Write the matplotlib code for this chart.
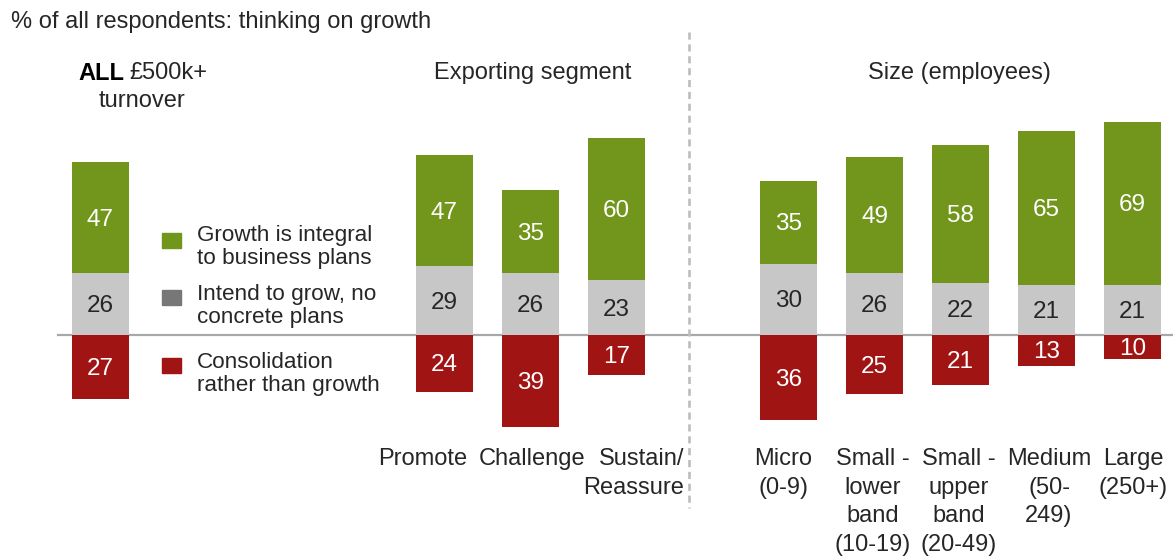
import matplotlib
matplotlib.use("Agg")
import matplotlib.pyplot as plt
from matplotlib.patches import Rectangle

plt.rcParams['font.family'] = ['Liberation Sans', 'DejaVu Sans']

# --- data -------------------------------------------------------------
categories = ["ALL", "Promote", "Challenge", "Sustain/\nReassure",
              "Micro\n(0-9)", "Small -\nlower\nband\n(10-19)",
              "Small -\nupper\nband\n(20-49)", "Medium\n(50-\n249)",
              "Large\n(250+)"]
growth_integral = [47, 47, 35, 60, 35, 49, 58, 65, 69]
intend_to_grow = [26, 29, 26, 23, 30, 26, 22, 21, 21]
consolidation = [27, 24, 39, 17, 36, 25, 21, 13, 10]

series_names = ["Growth is integral\nto business plans",
                "Intend to grow, no\nconcrete plans",
                "Consolidation\nrather than growth"]

# --- layout -----------------------------------------------------------
W, H = 1173, 559
x_pos = [-4, 0, 1, 2, 4, 5, 6, 7, 8]
bar_w = 0.663
px_per_slot = 86.0
x0_px = 444.5           # pixel column of slot 0
base_px = 335.0         # pixel row of the zero line
px_per_unit = 2.37

GREEN = "#72951c"
GREY = "#c7c7c7"
GREY_KEY = "#777777"
RED = "#a11414"
TXT = "#262626"

fig = plt.figure(figsize=(W / 100, H / 100), dpi=100)
ax = fig.add_axes([0, 0, 1, 1])
ax.set_xlim(-x0_px / px_per_slot, (W - x0_px) / px_per_slot)
ax.set_ylim(-(H - base_px) / px_per_unit, base_px / px_per_unit)
ax.axis("off")


def px(x, y):
    """Pixel position (from top-left) -> data coordinates."""
    return (x - x0_px) / px_per_slot, (base_px - y) / px_per_unit


fs = 17
fs_val = 17.5
fs_key = 16.2
nudge = 2.0 / px_per_unit   # digits have no descenders: drop labels a touch

# stacked bars
ax.bar(x_pos, intend_to_grow, bar_w, color=GREY, zorder=2)
ax.bar(x_pos, growth_integral, bar_w, bottom=intend_to_grow, color=GREEN, zorder=2)
ax.bar(x_pos, [-v for v in consolidation], bar_w, color=RED, zorder=2)

for x, g, i, c in zip(x_pos, growth_integral, intend_to_grow, consolidation):
    ax.text(x, i + g / 2 - nudge, str(g), ha="center", va="center",
            color="white", fontsize=fs_val, zorder=3)
    ax.text(x, i / 2 - nudge, str(i), ha="center", va="center", color=TXT,
            fontsize=fs_val, zorder=3)
    ax.text(x, -c / 2 - nudge, str(c), ha="center", va="center",
            color="white", fontsize=fs_val, zorder=3)

# zero line
lx0, _ = px(58, 0)
ax.plot([lx0, ax.get_xlim()[1]], [0, 0], color="#a8a8a8", lw=1.6, zorder=1)

# dashed separator
sx, sy0 = px(689, 32)
_, sy1 = px(689, 508)
ax.plot([sx, sx], [sy0, sy1], color="#bdbdbd", lw=1.9,
        linestyle=(0, (2.7, 1.8)), zorder=1)

# title and group headings
ax.text(*px(11, 22), "% of all respondents: thinking on growth",
        ha="left", va="center", fontsize=fs, color=TXT)
ax.text(*px(124, 73), "ALL", ha="right", va="center", fontsize=fs,
        color="black", fontweight="bold")
ax.text(*px(129, 73), "£500k+", ha="left", va="center", fontsize=fs, color=TXT)
ax.text(*px(142, 101), "turnover", ha="center", va="center", fontsize=fs, color=TXT)
ax.text(*px(533, 73), "Exporting segment", ha="center", va="center",
        fontsize=fs, color=TXT)
ax.text(*px(959, 73), "Size (employees)", ha="center", va="center",
        fontsize=fs, color=TXT)

# category labels under the bars
label_specs = {
    "Promote": (423, "center"),
    "Challenge": (532, "center"),
    "Sustain/\nReassure": (684, "right"),
    "Micro\n(0-9)": (783, "center"),
    "Small -\nlower\nband\n(10-19)": (873, "center"),
    "Small -\nupper\nband\n(20-49)": (959, "center"),
    "Medium\n(50-\n249)": (1049, "center"),
    "Large\n(250+)": (1133, "center"),
}
for name in categories[1:]:
    lx, align = label_specs[name]
    ax.text(*px(lx, 448), name, ha=align, va="top", fontsize=fs,
            color=TXT, linespacing=1.39, multialignment=align)

# legend
key_colors = [GREEN, GREY_KEY, RED]
key_rows = [240, 297, 365]
text_rows = [247, 306, 374]
for col, ky, ty, name in zip(key_colors, key_rows, text_rows, series_names):
    kx0, ky0 = px(162, ky + 7.5)
    kx1, ky1 = px(181, ky - 7.5)
    ax.add_patch(Rectangle((kx0, ky0), kx1 - kx0, ky1 - ky0, color=col, zorder=2))
    ax.text(*px(197, ty), name, ha="left", va="center", fontsize=fs_key,
            color=TXT, linespacing=1.12)

fig.savefig("out.png", dpi=100)
